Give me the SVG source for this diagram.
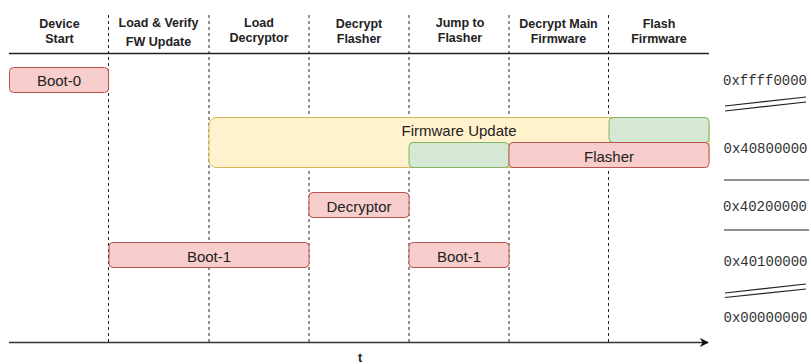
<svg xmlns="http://www.w3.org/2000/svg" width="811" height="364" viewBox="0 0 811 364">
  <style>
    .hdr { font-family: "Liberation Sans", Arial, sans-serif; font-size: 12.5px; font-weight: bold; fill: #222; text-anchor: middle; }
    .lbl { font-family: "Liberation Sans", Arial, sans-serif; font-size: 15px; fill: #222; text-anchor: middle; }
    .addr { font-family: "Liberation Mono", "Courier New", monospace; font-size: 14px; fill: #333; }
    .red { fill: #f8cecc; stroke: #b85450; stroke-width: 1; }
    .yellow { fill: #fff2cc; stroke: #d6b656; stroke-width: 1; }
    .green { fill: #d5e8d4; stroke: #82b366; stroke-width: 1; }
    .phase { stroke: #222; stroke-width: 1; stroke-dasharray: 3 3; fill: none; }
    .rule { stroke: #222; stroke-width: 1.3; fill: none; }
  </style>
  <defs>
    <marker id="arrow" viewBox="0 0 10 10" refX="9" refY="5" markerWidth="6" markerHeight="6" markerUnits="strokeWidth" orient="auto">
      <path d="M0,0 L10,5 L0,10 L3,5 Z" fill="#111"/>
    </marker>
  </defs>
  <rect width="811" height="364" fill="#ffffff"/>

  <!-- phase headers -->
  <g id="headers">
    <text class="hdr" x="59.5" y="28">Device</text>
    <text class="hdr" x="59.5" y="43">Start</text>
    <text class="hdr" x="158.5" y="27">Load &amp; Verify</text>
    <text class="hdr" x="158.5" y="46">FW Update</text>
    <text class="hdr" x="259" y="27">Load</text>
    <text class="hdr" x="259" y="42">Decryptor</text>
    <text class="hdr" x="359" y="28">Decrypt</text>
    <text class="hdr" x="359" y="43">Flasher</text>
    <text class="hdr" x="460" y="27">Jump to</text>
    <text class="hdr" x="460" y="41.5">Flasher</text>
    <text class="hdr" x="558.5" y="28">Decrypt Main</text>
    <text class="hdr" x="558.5" y="43">Firmware</text>
    <text class="hdr" x="659" y="28">Flash</text>
    <text class="hdr" x="659" y="43">Firmware</text>
  </g>

  <!-- header rule, phase separators and time axis -->
  <g id="connectors">
    <line class="rule" x1="9" y1="53.5" x2="709" y2="53.5"/>
    <line class="phase" x1="108.5" y1="15" x2="108.5" y2="342"/>
    <line class="phase" x1="209" y1="15" x2="209" y2="342"/>
    <line class="phase" x1="309" y1="15" x2="309" y2="342"/>
    <line class="phase" x1="409" y1="15" x2="409" y2="342"/>
    <line class="phase" x1="509" y1="15" x2="509" y2="342"/>
    <line class="phase" x1="608.5" y1="15" x2="608.5" y2="342"/>
    <line x1="9" y1="342.5" x2="708" y2="342.5" stroke="#333" stroke-width="1.5" marker-end="url(#arrow)"/>
  </g>
  <text class="hdr" x="360" y="361.5" font-size="13.5">t</text>

  <!-- memory regions over time -->
  <g id="boot0">
    <rect class="red" x="9.5" y="67.5" width="99" height="25" rx="4"/>
    <text class="lbl" x="59" y="86">Boot-0</text>
  </g>
  <g id="firmware-update">
    <rect class="yellow" x="209" y="117.5" width="500" height="50" rx="7.5"/>
    <text class="lbl" x="459" y="135.5" font-size="15.5">Firmware Update</text>
  </g>
  <g id="main-firmware">
    <rect class="green" x="609" y="117.5" width="100" height="25" rx="4"/>
  </g>
  <g id="flasher-encrypted">
    <rect class="green" x="409" y="142.5" width="100" height="25" rx="4"/>
  </g>
  <g id="flasher">
    <rect class="red" x="509" y="142.5" width="200" height="25" rx="4"/>
    <text class="lbl" x="609" y="161.5">Flasher</text>
  </g>
  <g id="decryptor">
    <rect class="red" x="309" y="192.5" width="100" height="25" rx="4"/>
    <text class="lbl" x="359" y="211.5">Decryptor</text>
  </g>
  <g id="boot1-a">
    <rect class="red" x="109" y="242.5" width="200" height="25" rx="4"/>
    <text class="lbl" x="209" y="261.5">Boot-1</text>
  </g>
  <g id="boot1-b">
    <rect class="red" x="409" y="242.5" width="100" height="25" rx="4"/>
    <text class="lbl" x="459" y="261.5">Boot-1</text>
  </g>

  <!-- address scale -->
  <g id="address-scale">
    <text class="addr" x="723" y="85">0xffff0000</text>
    <line x1="725" y1="106" x2="806" y2="97" stroke="#222" stroke-width="1.2"/>
    <line x1="725" y1="111" x2="806" y2="102" stroke="#222" stroke-width="1.2"/>
    <text class="addr" x="723.5" y="153">0x40800000</text>
    <line x1="724" y1="180" x2="809" y2="180" stroke="#222" stroke-width="1.2"/>
    <text class="addr" x="723" y="210.5">0x40200000</text>
    <line x1="724" y1="230" x2="809" y2="230" stroke="#222" stroke-width="1.2"/>
    <text class="addr" x="723.5" y="265.5">0x40100000</text>
    <line x1="725" y1="293" x2="806" y2="284" stroke="#222" stroke-width="1.2"/>
    <line x1="725" y1="297.5" x2="806" y2="289" stroke="#222" stroke-width="1.2"/>
    <text class="addr" x="723.5" y="322">0x00000000</text>
  </g>
</svg>
